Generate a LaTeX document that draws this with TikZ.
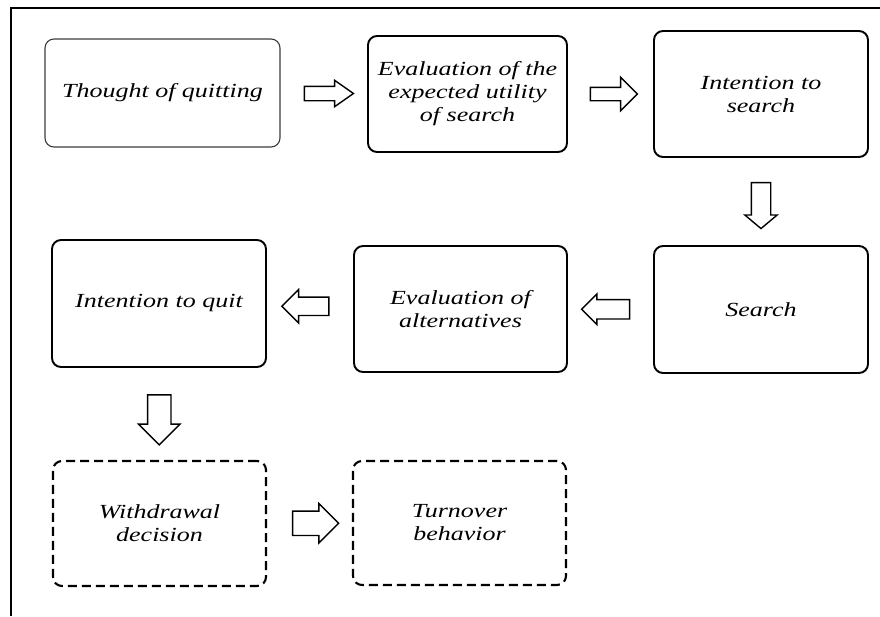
\documentclass[tikz,border=0pt]{standalone}
\usepackage{fontspec}
\setmainfont{Liberation Serif}[FakeStretch=1.3, ItalicFont={Liberation Serif Italic}]
\usetikzlibrary{positioning,calc,shapes.arrows}
\definecolor{clrStepedge}{RGB}{0,0,0}
\definecolor{clrFirstedge}{RGB}{60,60,60}
\tikzset{
  stepbox/.style={draw=clrStepedge, rounded corners=9pt, align=center, line width=1.9pt, font=\fontsize{20}{23}\selectfont\itshape},
  firstbox/.style={stepbox, draw=clrFirstedge, line width=1.1pt},
  outcomebox/.style={stepbox, line width=2.1pt, dash pattern=on 9pt off 5pt},
  blockarrow/.style={single arrow, draw=black, fill=white, line width=1.4pt, inner xsep=0pt, minimum width=0pt, single arrow tip angle=90},
  frameline/.style={line width=2.5pt}
}

\begin{document}
\begin{tikzpicture}[x=1pt, y=-1pt]
\useasboundingbox (0,0) rectangle (880,616);

\draw[frameline] (11,616) -- (11,8) -- (880,8);

% first row
\node[firstbox, minimum width=235pt, minimum height=108pt]
  (thought) at (162.5,93) {Thought of quitting};
\node[stepbox, minimum width=199pt, minimum height=116pt]
  (evalutil) at (467.5,94) {Evaluation of the\\expected utility\\of search};
\node[stepbox, minimum width=214pt, minimum height=126pt]
  (intsearch) at (761,94) {Intention to\\search};

% second row
\node[stepbox, minimum width=214pt, minimum height=127pt]
  (search) at (761,309.5) {Search};
\node[stepbox, minimum width=213pt, minimum height=126pt]
  (evalalt) at (460.5,309) {Evaluation of\\alternatives};
\node[stepbox, minimum width=214pt, minimum height=127pt]
  (intquit) at (159,303.5) {Intention to quit};

% third row
\node[outcomebox, minimum width=213pt, minimum height=125pt]
  (withdraw) at (159.5,523.5) {Withdrawal\\decision};
\node[outcomebox, minimum width=213pt, minimum height=124pt]
  (turnover) at (459.5,523) {Turnover\\behavior};

% block arrows
\node[blockarrow, minimum height=49pt, inner ysep=6.5pt, single arrow head extend=6pt, single arrow tip angle=70]
  (a1) at ($(thought.east)!.5!(evalutil.west)$) {};
\node[blockarrow, minimum height=47pt, inner ysep=6pt, single arrow head extend=10pt]
  (a2) at ($(evalutil.east)!.5!(intsearch.west)$) {};
\node[blockarrow, rotate=-90, minimum height=46pt, inner ysep=9pt, single arrow head extend=6.5pt, single arrow tip angle=100]
  (a3) at ($(intsearch.south)!.5!(search.north)$) {};
\node[blockarrow, rotate=180, minimum height=48pt, inner ysep=9pt, single arrow head extend=5.5pt]
  (a4) at ($(search.west)!.5!(evalalt.east)$) {};
\node[blockarrow, rotate=180, minimum height=47pt, inner ysep=8.5pt, single arrow head extend=7.5pt]
  (a5) at ($(evalalt.west)!.5!(intquit.east)$) {};
\node[blockarrow, rotate=-90, minimum height=50pt, inner ysep=11pt, single arrow head extend=9pt]
  (a6) at ($(intquit.south)!.5!(withdraw.north)$) {};
\node[blockarrow, minimum height=46pt, inner ysep=11.5pt, single arrow head extend=7.5pt]
  (a7) at ($(withdraw.east)!.5!(turnover.west)$) {};

\end{tikzpicture}
\end{document}
